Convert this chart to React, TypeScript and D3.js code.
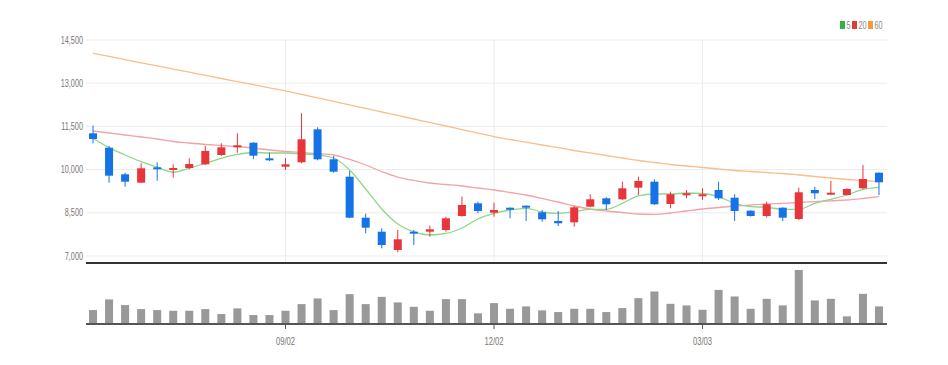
import React from "react";
import * as d3 from "d3";

const dates = ["06/10","06/17","06/24","07/01","07/08","07/15","07/22","07/29","08/05","08/12","08/19","08/26","09/02","09/09","09/16","09/23","09/30","10/07","10/14","10/21","10/28","11/04","11/11","11/18","11/25","12/02","12/09","12/16","12/23","12/30","01/06","01/13","01/20","01/27","02/03","02/10","02/17","02/24","03/03","03/10","03/17","03/24","03/31","04/07","04/14","04/21","04/28","05/05","05/12","05/19"];

const opens = [11260,10761,9837,9546,10080,10011,10056,10184,10507,10795,10934,10392,10101,10254,11399,10358,9754,8330,7844,7209,7844,7844,7903,8389,8830,8504,8677,8747,8518,8216,8170,8712,9004,8969,9372,9580,8806,9143,9117,9292,9025,8573,8389,8677,8285,9292,9143,9118,9351,9893];
const highs = [11530,10820,9893,10219,10254,10184,10392,10820,10913,11260,10950,10587,10403,11955,11469,10472,9952,8469,7962,7903,7903,8053,8365,9059,8889,8851,8690,8760,8598,8563,8736,9143,9039,9580,9754,9664,9233,9292,9351,9580,9143,8590,8886,8690,9372,9407,9604,9351,10160,9900];
const lows = [10913,9546,9407,9530,9615,9719,10010,10160,10472,10587,10368,10299,9986,10219,10323,9893,8307,7788,7268,7129,7382,7671,7844,8365,8483,8365,8309,8216,8191,8042,8018,8691,8598,8945,9118,8771,8657,9004,8945,8945,8216,8370,8330,8216,8250,8980,9118,9107,9316,9118];
const closes = [11063,9789,9580,10045,10032,10056,10195,10646,10774,10844,10483,10334,10184,11052,10358,9927,8330,7983,7382,7580,7775,7927,8309,8771,8563,8598,8632,8691,8275,8136,8691,8969,8796,9351,9604,8796,9143,9177,9143,9004,8563,8389,8796,8330,9212,9177,9198,9327,9674,9559];
const volumes = [140,247,190,150,140,133,133,150,100,157,90,90,133,200,257,140,300,200,273,217,173,133,250,250,107,210,153,177,137,120,153,153,120,160,260,327,203,187,143,343,277,153,253,187,543,237,253,77,303,177];

const ma5 = [11087,10761,10507,10275,10080,9907,10045,10219,10393,10525,10594,10577,10577,10542,10507,10403,9986,9327,8632,8112,7834,7730,7782,7973,8285,8476,8598,8657,8528,8483,8539,8622,8622,8830,9084,9153,9153,9188,9170,9059,8830,8712,8691,8622,8622,8830,8969,9118,9316,9386];
const ma20 = [11340,11271,11202,11132,11063,10976,10924,10872,10837,10802,10750,10681,10629,10594,10559,10507,10351,10160,9934,9743,9622,9535,9483,9431,9361,9292,9205,9118,8997,8875,8736,8632,8563,8511,8459,8448,8493,8563,8632,8684,8736,8771,8806,8830,8858,8886,8917,8945,8997,9059];
const ma60 = [14038,13931,13816,13705,13604,13490,13382,13274,13163,13056,12948,12840,12733,12615,12490,12368,12247,12122,12000,11879,11757,11636,11514,11389,11268,11143,11045,10952,10854,10761,10663,10577,10490,10403,10316,10247,10177,10125,10073,10021,9969,9934,9900,9865,9813,9761,9709,9657,9622,9580];

const priceTicks = [7000, 8500, 10000, 11500, 13000, 14500];
const dateTicks = ["09/02", "12/02", "03/03"];
const legendItems = [
  { label: "5", color: "#2fb344" },
  { label: "20", color: "#e53935" },
  { label: "60", color: "#f39a3b" },
];

const W = 948, H = 365;
const LEFT = 85, RIGHT = 887;
const UP = "#e8343b", DOWN = "#1673e6";
const FONT = "'Liberation Sans', Arial, sans-serif";
const SX = 0.73;

function NText({ x, y, anchor, size, fill, children }: any) {
  return (
    <text transform={`translate(${x},${y}) scale(${SX},1)`} textAnchor={anchor} fontSize={size} fill={fill}>
      {children}
    </text>
  );
}

export default function App() {
  const x = d3.scaleBand<number>()
    .domain(d3.range(dates.length))
    .range([LEFT, RIGHT])
    .paddingInner(0.5)
    .paddingOuter(0.25);
  const bw = x.bandwidth();
  const cx = (i: number) => (x(i) as number) + bw / 2;
  const y = d3.scaleLinear().domain([7000, 14500]).range([256, 40]);
  const vy = d3.scaleLinear().domain([0, d3.max(volumes) as number]).range([324, 270]);

  const smooth = (arr: number[]) =>
    d3.line<number>().x((_, i) => cx(i)).y((d) => y(d)).curve(d3.curveMonotoneX)(arr) as string;

  const gridX = 86;
  const legendX = [840, 852, 868];
  return (
    <svg width={W} height={H} style={{ position: "absolute", left: 0, top: 0, background: "#fff" }} fontFamily={FONT}>
      {priceTicks.map((t) => (
        <line key={t} x1={gridX} x2={RIGHT} y1={y(t)} y2={y(t)} stroke="#ececec" strokeWidth={1} />
      ))}
      {dateTicks.map((d) => {
        const i = dates.indexOf(d);
        return <line key={d} x1={cx(i)} x2={cx(i)} y1={y(14500)} y2={263} stroke="#ececec" strokeWidth={1} />;
      })}
      {priceTicks.map((t) => (
        <NText key={"l" + t} x={83} y={y(t) + 3.5} anchor="end" size={10} fill="#777">
          {d3.format(",")(t)}
        </NText>
      ))}
      <path d={smooth(ma60)} fill="none" stroke="#f7bf8c" strokeWidth={1.3} />
      <path d={smooth(ma20)} fill="none" stroke="#f3a3a6" strokeWidth={1.3} />
      <path d={smooth(ma5)} fill="none" stroke="#8ed68a" strokeWidth={1.3} />
      {dates.map((d, i) => {
        const o = opens[i], c = closes[i];
        const col = c >= o ? UP : DOWN;
        const top = y(Math.max(o, c));
        const h = Math.max(2, y(Math.min(o, c)) - top);
        return (
          <g key={d}>
            <line x1={cx(i)} x2={cx(i)} y1={y(highs[i])} y2={y(lows[i])} stroke={col} strokeWidth={1} />
            <rect x={x(i)} y={top} width={bw} height={h} fill={col} />
          </g>
        );
      })}
      <line x1={gridX} x2={RIGHT} y1={263} y2={263} stroke="#333" strokeWidth={2} />
      {dates.map((d, i) => (
        <rect key={"v" + d} x={x(i)} y={vy(volumes[i])} width={bw} height={324 - vy(volumes[i])} fill="#999" />
      ))}
      <line x1={gridX} x2={RIGHT} y1={324} y2={324} stroke="#555" strokeWidth={2} />
      {dateTicks.map((d) => {
        const i = dates.indexOf(d);
        return (
          <g key={"t" + d}>
            <line x1={cx(i)} x2={cx(i)} y1={324} y2={329} stroke="#555" strokeWidth={1} />
            <NText x={cx(i)} y={345} anchor="middle" size={10.5} fill="#777">{d}</NText>
          </g>
        );
      })}
      {legendItems.map((it, k) => (
        <g key={it.label}>
          <rect x={legendX[k]} y={21} width={5} height={8} fill={it.color} />
          <NText x={legendX[k] + 6.5} y={29} anchor="start" size={10} fill="#888">{it.label}</NText>
        </g>
      ))}
    </svg>
  );
}
